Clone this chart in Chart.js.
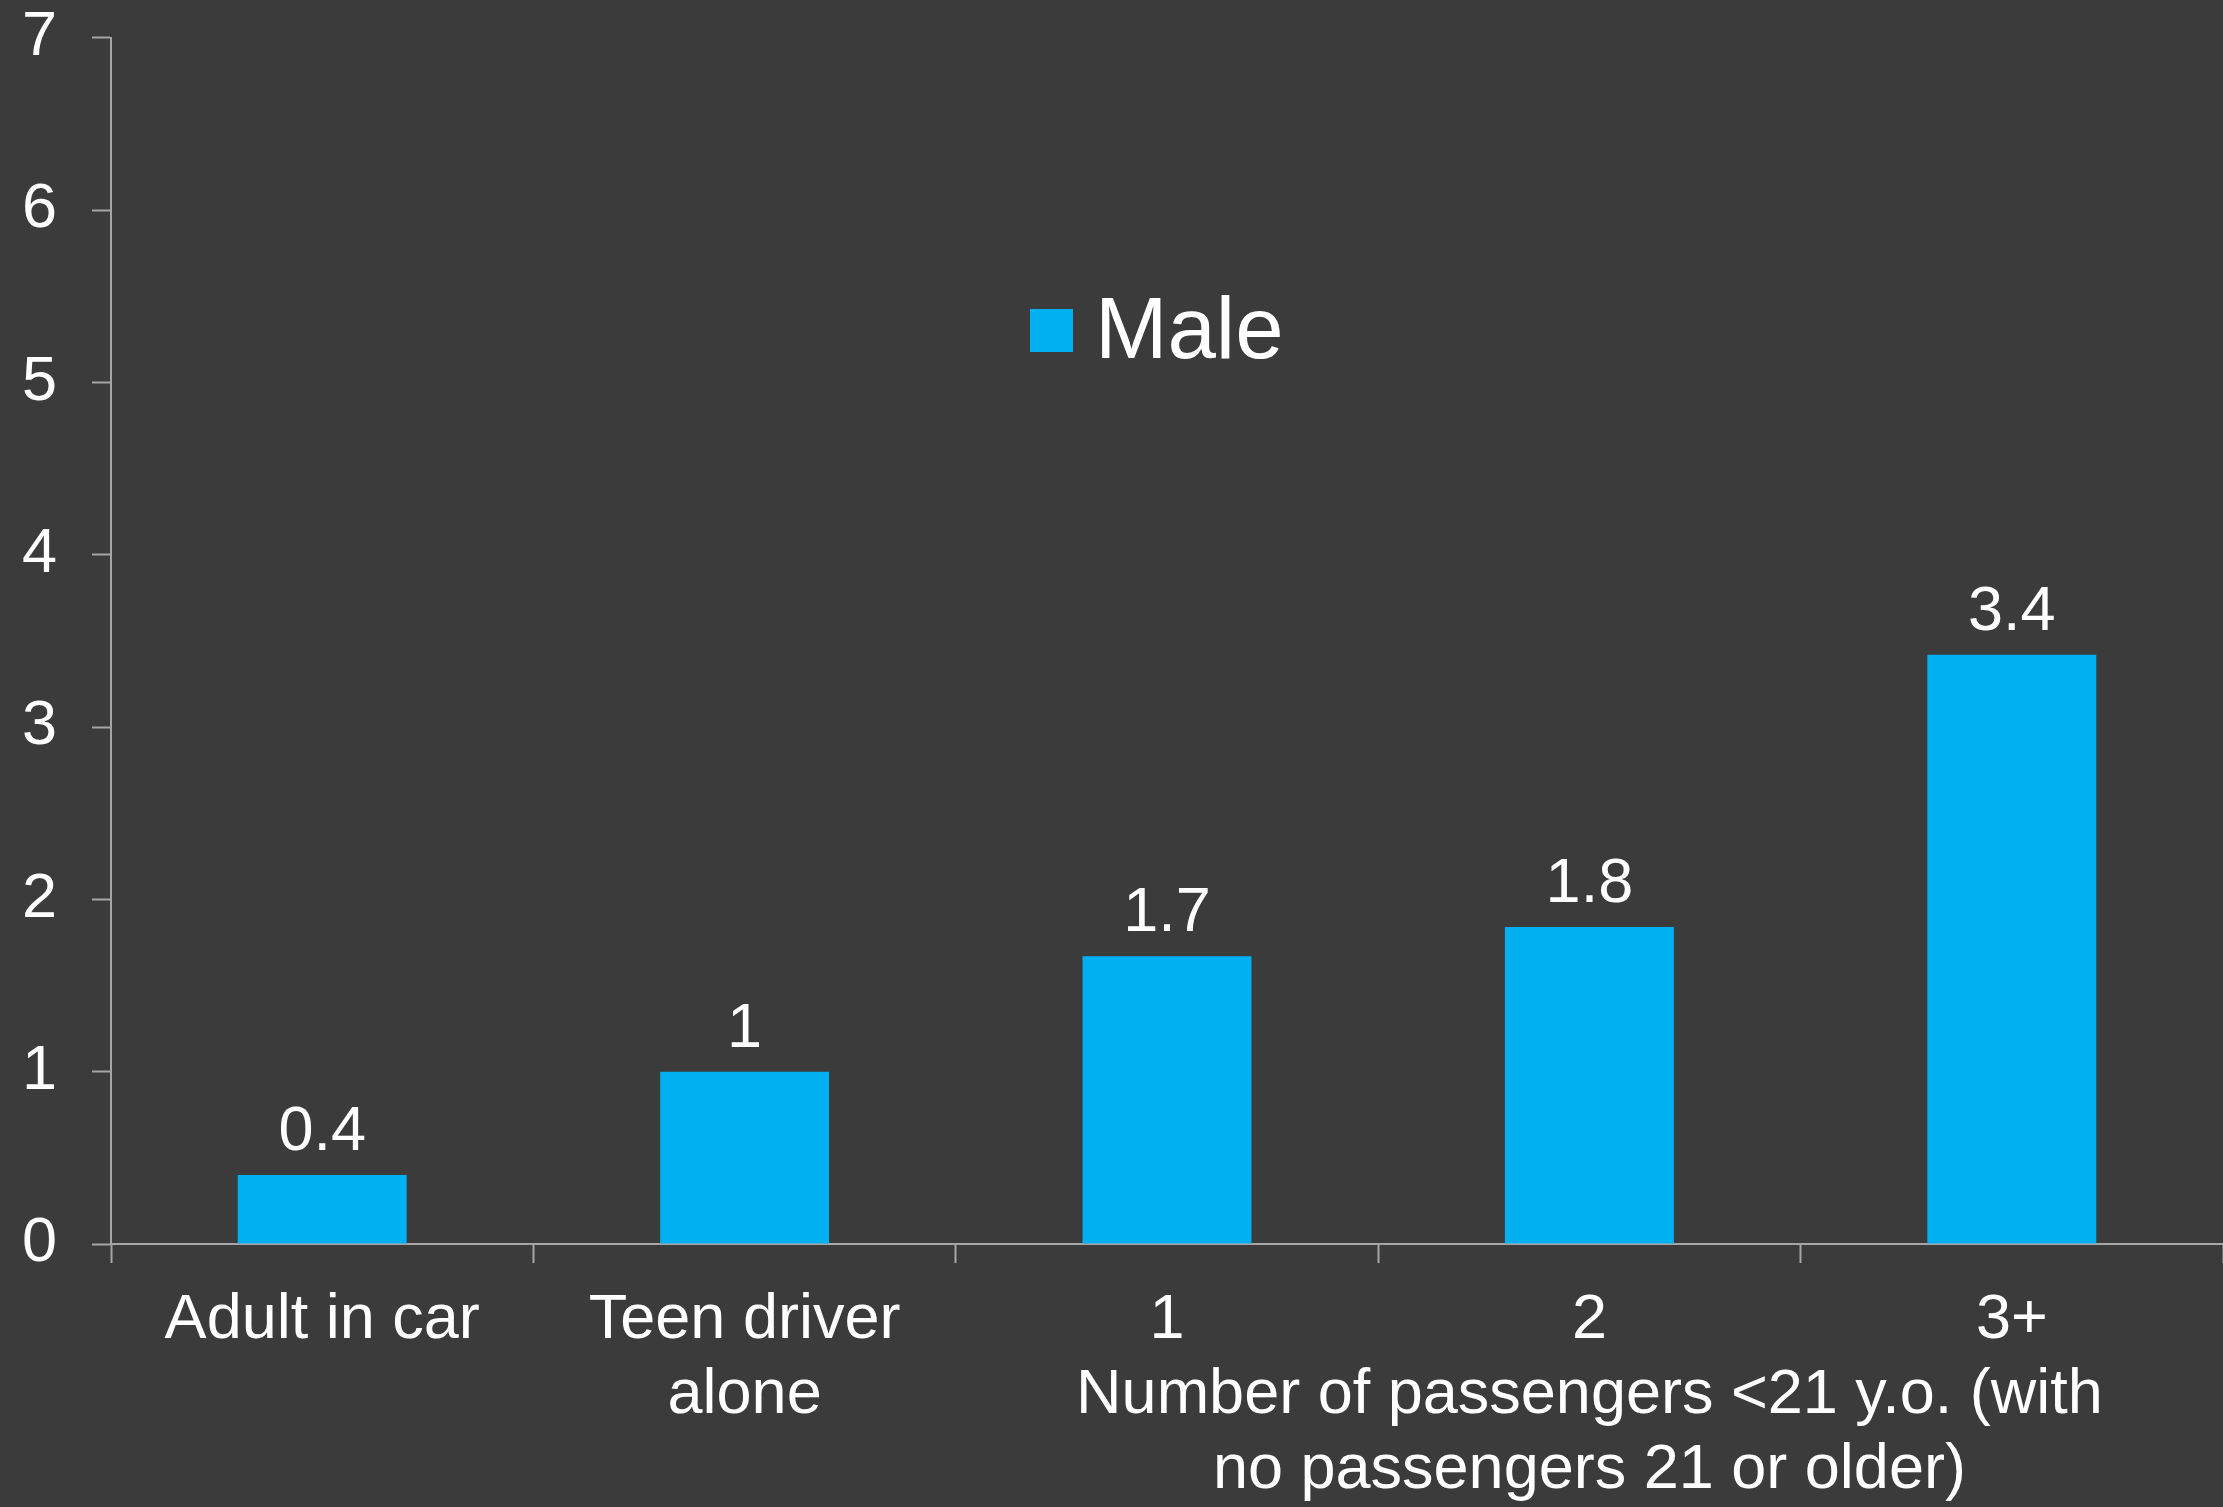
<!DOCTYPE html>
<html>
<head>
<meta charset="utf-8">
<script src="https://cdn.jsdelivr.net/npm/chart.js@4.4.1/dist/chart.umd.min.js"></script>
<style>
  html, body { margin: 0; padding: 0; background: #3b3b3b; }
  #wrap { width: 2223px; height: 1507px; position: relative; }
  canvas { display: block; }
</style>
</head>
<body>
<div id="wrap"><canvas id="c" width="2223" height="1507"></canvas></div>
<script>
// ---- data ----
const categories = ["Adult in car", ["Teen driver", "alone"], "1", "2", "3+"];
const seriesName = "Male";
const maleValues = [0.4, 1.0, 1.67, 1.84, 3.42];
// group title spanning the passenger-count categories (centred under "2")
const groupTitle = ["Number of passengers <21 y.o. (with", "no passengers 21 or older)"];
const groupTitleUnder = "2";
const yTicks = [0, 1, 2, 3, 4, 5, 6, 7];

const FONT = '"Liberation Sans", Arial, Helvetica, sans-serif';
const AXIS_COLOR = '#a6a6a6';
const BAR_COLOR = '#00b0f0';

const valueLabels = {
  id: 'valueLabels',
  afterDatasetsDraw(chart) {
    const ctx = chart.ctx;
    const meta = chart.getDatasetMeta(0);
    ctx.save();
    ctx.fillStyle = '#ffffff';
    ctx.font = '63px ' + FONT;
    ctx.textAlign = 'center';
    ctx.textBaseline = 'alphabetic';
    meta.data.forEach((bar, i) => {
      const v = chart.data.datasets[0].data[i];
      const txt = String(Math.round(v * 10) / 10);
      ctx.fillText(txt, bar.x, bar.y - 25);
    });
    ctx.restore();
  }
};

const floatLegend = {
  id: 'floatLegend',
  afterDraw(chart) {
    const ctx = chart.ctx;
    const ds = chart.data.datasets[0];
    const x0 = 1030, yTop = 309, size = 43;
    ctx.save();
    ctx.fillStyle = ds.backgroundColor;
    ctx.fillRect(x0, yTop, size, size);
    ctx.fillStyle = '#ffffff';
    ctx.font = '87px ' + FONT;
    ctx.textAlign = 'left';
    ctx.textBaseline = 'alphabetic';
    ctx.fillText(ds.label, 1095, 358);
    ctx.restore();
  }
};

new Chart(document.getElementById('c'), {
  type: 'bar',
  data: {
    labels: categories,
    datasets: [{
      label: seriesName,
      data: maleValues,
      backgroundColor: BAR_COLOR,
      borderWidth: 0,
      categoryPercentage: 1.0,
      barPercentage: 0.4
    }]
  },
  options: {
    responsive: false,
    animation: false,
    devicePixelRatio: 1,
    layout: { padding: { left: 22, right: 0, top: 0, bottom: 0 } },
    plugins: {
      legend: { display: false },
      tooltip: { enabled: false }
    },
    scales: {
      x: {
        type: 'category',
        position: 'bottom',
        offset: true,
        grid: {
          display: true,
          offset: true,
          drawOnChartArea: false,
          drawTicks: true,
          tickLength: 19,
          tickColor: (ctx) => (ctx.index === categories.length ? 'rgba(0,0,0,0)' : AXIS_COLOR),
          tickWidth: 2
        },
        border: { display: true, color: AXIS_COLOR, width: 2 },
        ticks: {
          color: '#ffffff',
          font: { family: FONT, size: 63, lineHeight: 1.19 },
          padding: 20,
          maxRotation: 0,
          minRotation: 0,
          autoSkip: false,
          callback: function (value, index) {
            const c = categories[index];
            if (c === groupTitleUnder) return [c].concat(groupTitle);
            return c;
          }
        },
        afterFit(scale) { scale.height = 263; }
      },
      y: {
        min: 0,
        max: 7,
        afterBuildTicks(scale) { scale.ticks = yTicks.map(v => ({ value: v })); },
        grid: {
          display: true,
          drawOnChartArea: false,
          drawTicks: true,
          tickLength: 19,
          tickColor: AXIS_COLOR,
          tickWidth: 2
        },
        border: { display: true, color: AXIS_COLOR, width: 2 },
        ticks: {
          color: '#ffffff',
          font: { family: FONT, size: 63, lineHeight: 1.2 },
          padding: 0,
          crossAlign: 'far'
        },
        afterFit(scale) { scale.width = 89; }
      }
    }
  },
  plugins: [valueLabels, floatLegend]
});
</script>
</body>
</html>
